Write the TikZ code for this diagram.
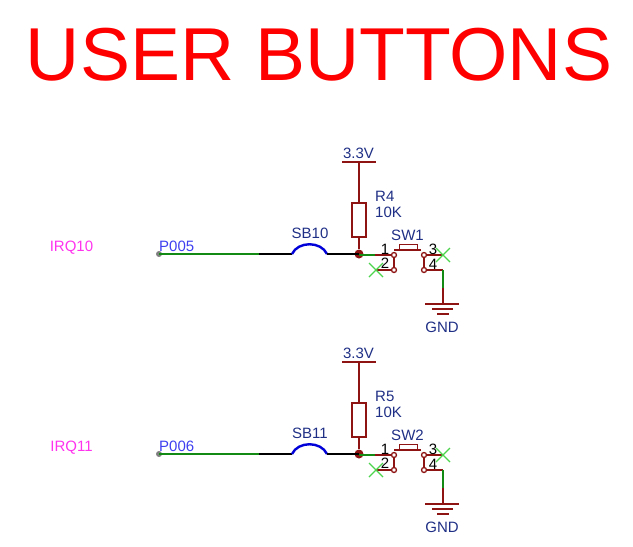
\documentclass[tikz,border=0pt]{standalone}
\usepackage{fontspec}
\setmainfont{Liberation Sans}
\usepackage{tikz}

\definecolor{pinred}{HTML}{8E1414}
\definecolor{wiregreen}{HTML}{138A13}
\definecolor{crossgreen}{HTML}{4CD44C}
\definecolor{labelblue}{HTML}{1F2F85}
\definecolor{portblue}{HTML}{3F3FF0}
\definecolor{irqpink}{HTML}{FF33EE}

\tikzset{
  label/.style={inner sep=0pt, text=labelblue, font=\fontsize{15}{15}\selectfont},
  pinnum/.style={inner sep=0pt, text=black, font=\fontsize{15}{15}\selectfont},
  pin/.style={draw=pinred, line width=1.5pt},
  wire/.style={draw=wiregreen, line width=1.5pt},
  crossmark/.style={draw=crossgreen, line width=1.2pt},
  terminal/.style={circle, draw=pinred, fill=white, line width=1.3pt, inner sep=0pt, minimum size=5pt},
}

\begin{document}
\begin{tikzpicture}[x=1pt,y=-1pt]

\useasboundingbox (0,0) rectangle (633,547);

\node[inner sep=0pt, text=red, font=\fontsize{75}{75}\selectfont] (title) at (319,54.5) {USER BUTTONS};

\foreach \off/\irq/\port/\sb/\res/\sw in {0/IRQ10/P005/SB10/R4/SW1, 200/IRQ11/P006/SB11/R5/SW2} {
\begin{scope}[yshift=-\off pt]

\node[inner sep=0pt, text=irqpink, font=\fontsize{15}{15}\selectfont] (irq) at (71.5,247.5) {\irq};
\node[inner sep=0pt, text=portblue, font=\fontsize{15}{15}\selectfont, anchor=west] (port) at (159,246) {\port};
\node[label] (sb) at (310,233.5) {\sb};
\node[label] (vcc) at (358.5,153) {3.3V};
\node[label, anchor=west] (res) at (375,196) {\res};
\node[label, anchor=west] (val) at (375,212) {10K};
\node[label] (sw) at (407.5,235) {\sw};
\node[label] (gnd) at (442,327.5) {GND};
\node[pinnum] (n1) at (385,249) {1};
\node[pinnum] (n2) at (385,263) {2};
\node[pinnum] (n3) at (433,249) {3};
\node[pinnum] (n4) at (433,264) {4};

% net on the left
\node[circle, fill=gray, inner sep=0pt, minimum size=6pt] (dot) at (159,254) {};
\coordinate (wa) at (259,254);
\coordinate (ja) at (292,254);
\coordinate (jb) at (327,254);
\node[circle, fill=pinred, inner sep=0pt, minimum size=9pt] (junc) at (359,254) {};
\draw[wire] (dot.center) -- (wa);
\draw[black, line width=1.3pt] (wa) -- (ja);
\draw[blue!85!black, line width=2.4pt] (ja) .. controls (298,241) and (321,241) .. (jb);
\draw[black, line width=1.3pt] (jb) -- (junc.center);

% resistor
\coordinate (vl) at (342,162);
\coordinate (vr) at (376,162);
\coordinate (vm) at (359,162);
\node[draw=pinred, fill=white, line width=1.5pt, inner sep=0pt, minimum width=14pt, minimum height=34pt] (rbox) at (359,220) {};
\draw[pin] (vl) -- (vr);
\draw[pin] (vm) -- (rbox.north);
\draw[pin] (rbox.south) -- (junc);

% switch
\coordinate (sl) at (394,250);
\coordinate (sr) at (421,250);
\node[draw=pinred, line width=1.3pt, anchor=south, inner sep=0pt, minimum width=18pt, minimum height=5pt] (btn) at (408.5,250) {};
\coordinate (jw) at (359,255);
\coordinate (wb) at (375,255);
\coordinate (xl) at (376,270);
\coordinate (xr) at (443,255);
\coordinate (gc) at (443,270);
\coordinate (gm) at (443,288);
\coordinate (gt) at (443,304);
\coordinate (ca) at (394,255);
\coordinate (cb) at (394,270);
\coordinate (cc) at (424,255);
\coordinate (cd) at (424,270);
\draw[pin] (sl) -- (sr);
\draw[wire] (jw) -- (wb);
\draw[pin] (wb) -- (ca) -- (cb) -- (xl);
\draw[pin] (xr) -- (cc) -- (cd) -- (gc);
\draw[wire] (gc) -- (gm);
\draw[pin] (gm) -- (gt);
\node[terminal] (ta) at (ca) {};
\node[terminal] (tb) at (cb) {};
\node[terminal] (tc) at (cc) {};
\node[terminal] (td) at (cd) {};

% ground
\draw[pin] (425,304) -- (459,304);
\draw[pin] (432,309) -- (453,309);
\draw[pin] (437,314) -- (449,314);

% no connect marks
\draw[crossmark] (369,263) -- (383,277);
\draw[crossmark] (369,277) -- (383,263);
\draw[crossmark] (436,248) -- (450,262);
\draw[crossmark] (436,262) -- (450,248);

\end{scope}
}

\end{tikzpicture}
\end{document}
